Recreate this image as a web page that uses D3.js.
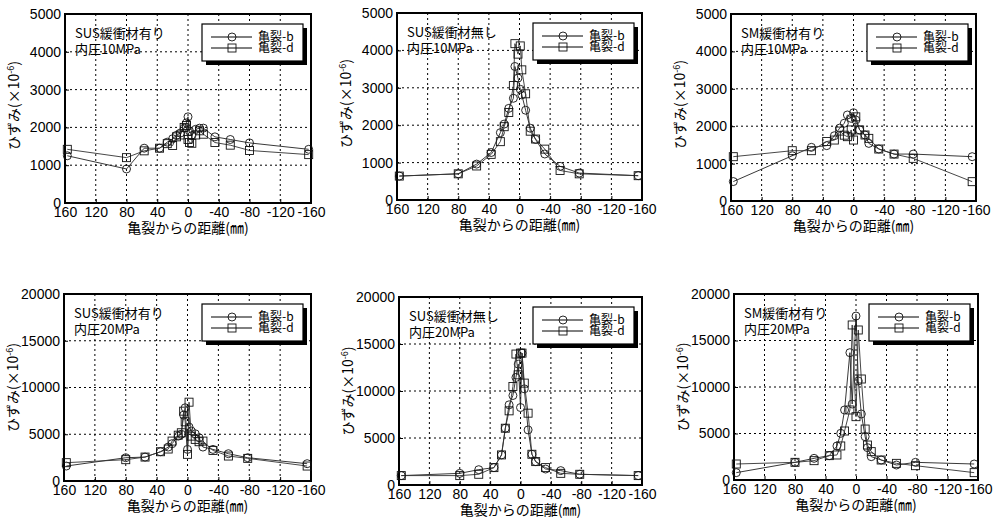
<!DOCTYPE html>
<html><head><meta charset="utf-8">
<script src="https://d3js.org/d3.v7.min.js"></script>
<style>
html,body{margin:0;padding:0;background:#fff;}
svg{display:block;}
</style></head>
<body><svg id="c" width="1007" height="518"></svg>
<script>
// ---------------- data ----------------
const xTicks = [160, 120, 80, 40, 0, -40, -80, -120, -160];
const xTickLabels = ["160", "120", "80", "40", "0", "-40", "-80", "-120", "-160"];
const yTicks10 = [0, 1000, 2000, 3000, 4000, 5000];
const yTicks20 = [0, 5000, 10000, 15000, 20000];
const seriesNames = ["亀裂-b", "亀裂-d"];
const panelLabel1 = ["SUS緩衝材有り", "SUS緩衝材無し", "SM緩衝材有り", "SUS緩衝材有り", "SUS緩衝材無し", "SM緩衝材有り"];
const panelLabel2 = ["内圧10MPa", "内圧10MPa", "内圧10MPa", "内圧20MPa", "内圧20MPa", "内圧20MPa"];
const xTitle = "亀裂からの距離(㎜)";

const x1 = [157, 80, 57, 37, 27, 20, 15, 10, 5, 2, 0, -2, -5, -10, -15, -20, -35, -55, -80, -157];
const b1 = [1250, 900, 1450, 1450, 1610, 1700, 1790, 1850, 1980, 2120, 2280, 1900, 1780, 1950, 1980, 1980, 1750, 1680, 1590, 1420];
const d1 = [1420, 1200, 1380, 1450, 1570, 1520, 1750, 1800, 2000, 2050, 1680, 1600, 1580, 1800, 1910, 1820, 1600, 1530, 1390, 1280];

const x2 = [157, 80, 56, 37, 25, 20, 14, 8, 6, 2, -1, -3, -8, -14, -21, -33, -53, -78, -155];
const b2 = [640, 700, 960, 1270, 1800, 2030, 2450, 2720, 3570, 3260, 2960, 2810, 2400, 1920, 1620, 1230, 900, 720, 650];
const d2 = [640, 700, 910, 1220, 1560, 1960, 2340, 3060, 4180, 3900, 4120, 3480, 2840, 1840, 1630, 1360, 790, 700, 650];

const x3 = [157, 80, 55, 35, 25, 18, 12, 8, 3, 0, -3, -8, -15, -20, -33, -53, -78, -155];
const b3 = [520, 1210, 1435, 1480, 1745, 1950, 2080, 2300, 2210, 2360, 2165, 1900, 1765, 1540, 1390, 1255, 1255, 1185];
const d3v = [1185, 1345, 1345, 1590, 1630, 1870, 1760, 1720, 1900, 1630, 2250, 1900, 1765, 1675, 1390, 1255, 1140, 517];

const x4 = [157, 80, 55, 35, 25, 20, 12, 8, 5, 3, 0, -2, -5, -10, -15, -20, -33, -53, -78, -155];
const b4 = [1600, 2490, 2560, 3130, 3630, 3990, 4800, 5000, 7050, 7830, 3380, 5770, 5340, 5050, 4630, 3630, 3380, 2920, 2490, 1850];
const d4 = [1960, 2280, 2560, 3130, 3420, 4270, 4900, 5160, 7470, 6330, 2850, 8430, 4800, 4450, 4200, 4270, 3270, 2670, 2420, 1600];

const x5 = [157, 80, 55, 35, 25, 20, 15, 10, 6, 3, 0, -2, -5, -10, -15, -20, -33, -53, -78, -155];
const b5 = [1000, 1240, 1630, 1850, 3200, 6040, 8530, 9520, 11440, 12860, 8240, 14030, 10230, 5860, 3270, 2490, 1700, 1530, 1140, 1000];
const d5 = [1000, 1000, 1140, 1850, 3200, 6040, 7890, 10480, 13930, 11720, 14030, 14030, 10840, 7640, 3270, 2490, 1850, 1240, 1140, 1000];

const x6 = [157, 80, 55, 35, 25, 20, 15, 8, 5, 0, -3, -7, -12, -15, -20, -33, -53, -78, -155];
const b6 = [790, 1900, 2330, 2620, 3660, 5020, 7530, 13690, 8170, 17630, 10650, 7100, 4660, 3480, 2510, 2150, 1610, 1900, 1720];
const d6 = [1720, 1900, 2080, 2620, 2690, 3660, 5270, 7530, 16670, 6810, 16130, 10860, 5480, 3760, 3050, 2150, 1790, 1540, 790];

// ---------------- layout ----------------
const panels = [
  {L:65, T:14, R:311, B:203, ymax:5000, yt:yTicks10, x:x1, b:b1, d:d1},
  {L:397, T:13, R:642, B:200, ymax:5000, yt:yTicks10, x:x2, b:b2, d:d2},
  {L:731, T:14, R:976, B:201, ymax:5000, yt:yTicks10, x:x3, b:b3, d:d3v},
  {L:64, T:294, R:311, B:481, ymax:20000, yt:yTicks20, x:x4, b:b4, d:d4},
  {L:399, T:297, R:642, B:485, ymax:20000, yt:yTicks20, x:x5, b:b5, d:d5},
  {L:734, T:294, R:978, B:480, ymax:20000, yt:yTicks20, x:x6, b:b6, d:d6}
];

const svg = d3.select("#c");
const latin = "'Liberation Sans', Arial, sans-serif";
const cjk = "'Noto Sans CJK JP', sans-serif";

function marker(g, type, cx, cy) {
  if (type === 0) {
    g.append("circle").attr("cx", cx).attr("cy", cy).attr("r", 4)
      .attr("fill", "none").attr("stroke", "#111").attr("stroke-width", 0.9);
  } else {
    g.append("rect").attr("x", cx - 4).attr("y", cy - 4).attr("width", 8).attr("height", 8)
      .attr("fill", "none").attr("stroke", "#111").attr("stroke-width", 0.9);
  }
}

panels.forEach((p, i) => {
  const g = svg.append("g");
  const xs = d3.scaleLinear().domain([160, -160]).range([p.L, p.R]);
  const ys = d3.scaleLinear().domain([0, p.ymax]).range([p.B, p.T]);

  // grid
  const grid = g.append("g").attr("stroke", "#000").attr("stroke-width", 1).attr("stroke-dasharray", "2,3");
  xTicks.forEach(t => {
    if (t === 160 || t === -160) return;
    grid.append("line").attr("x1", xs(t)).attr("x2", xs(t)).attr("y1", p.T).attr("y2", p.B);
  });
  p.yt.forEach(t => {
    if (t === 0 || t === p.ymax) return;
    grid.append("line").attr("x1", p.L).attr("x2", p.R).attr("y1", ys(t)).attr("y2", ys(t));
  });

  // axes via d3
  const xAxis = d3.axisBottom(xs).tickValues(xTicks).tickSize(-4).tickPadding(4)
    .tickFormat((d, k) => xTickLabels[k]);
  const ax = g.append("g").attr("transform", `translate(0,${p.B})`).call(xAxis);
  ax.select(".domain").remove();
  ax.selectAll("text").attr("font-family", latin).attr("font-size", 14).attr("fill", "#000");
  ax.selectAll("line").attr("stroke", "#000");

  const yAxis = d3.axisLeft(ys).tickValues(p.yt).tickSize(-4).tickPadding(4).tickFormat(d3.format("d"));
  const ay = g.append("g").attr("transform", `translate(${p.L},0)`).call(yAxis);
  ay.select(".domain").remove();
  ay.selectAll("text").attr("font-family", latin).attr("font-size", 14).attr("fill", "#000");
  ay.selectAll("line").attr("stroke", "#000");

  // frame
  g.append("rect").attr("x", p.L).attr("y", p.T).attr("width", p.R - p.L).attr("height", p.B - p.T)
    .attr("fill", "none").attr("stroke", "#000").attr("stroke-width", 2);

  // lines + markers
  const marks = g.append("g");
  [p.b, p.d].forEach((vals, s) => {
    const pts = p.x.map((xv, k) => [xs(xv), ys(vals[k])]);
    marks.append("path").attr("d", d3.line()(pts)).attr("fill", "none")
      .attr("stroke", s === 0 ? "#222" : "#333").attr("stroke-width", 0.9);
    pts.forEach(pt => marker(marks, s, pt[0], pt[1]));
  });

  // annotation
  const ann = g.append("text").attr("font-family", cjk).attr("font-size", 13).attr("fill", "#000");
  ann.append("tspan").attr("x", p.L + 10).attr("y", p.T + 24).text(panelLabel1[i]);
  ann.append("tspan").attr("x", p.L + 10).attr("y", p.T + 40).text(panelLabel2[i]);

  // legend
  const lw = 101, lh = 37;
  const lx = p.R - 8 - lw, ly = p.T + 10;
  g.append("rect").attr("x", lx + 4).attr("y", ly + 4).attr("width", lw).attr("height", lh).attr("fill", "#000");
  g.append("rect").attr("x", lx).attr("y", ly).attr("width", lw).attr("height", lh)
    .attr("fill", "#fff").attr("stroke", "#000").attr("stroke-width", 1.2);
  seriesNames.forEach((nm, s) => {
    const yy = ly + 13 + s * 11;
    g.append("line").attr("x1", lx + 9).attr("x2", lx + 50).attr("y1", yy).attr("y2", yy)
      .attr("stroke", "#000").attr("stroke-width", 1);
    marker(g, s, lx + 30, yy);
    g.append("text").attr("x", lx + 56).attr("y", yy + 4).attr("font-family", cjk)
      .attr("font-size", 12).attr("fill", "#000").text(nm);
  });

  // axis titles
  g.append("text").attr("x", (p.L + p.R) / 2).attr("y", p.B + 30).attr("text-anchor", "middle")
    .attr("font-family", cjk).attr("font-size", 14).attr("fill", "#000").text(xTitle);
  const yt = g.append("text").attr("transform", `translate(${p.L - 46},${(p.T + p.B) / 2 + (i < 3 ? -3 : 0)}) rotate(-90)`)
    .attr("text-anchor", "middle").attr("font-family", cjk).attr("font-size", 14).attr("fill", "#000");
  yt.append("tspan").text("ひずみ(×10");
  yt.append("tspan").attr("dy", -5).attr("font-size", 9).text("-6");
  yt.append("tspan").attr("dy", 5).text(")");
});
</script>
</body></html>
